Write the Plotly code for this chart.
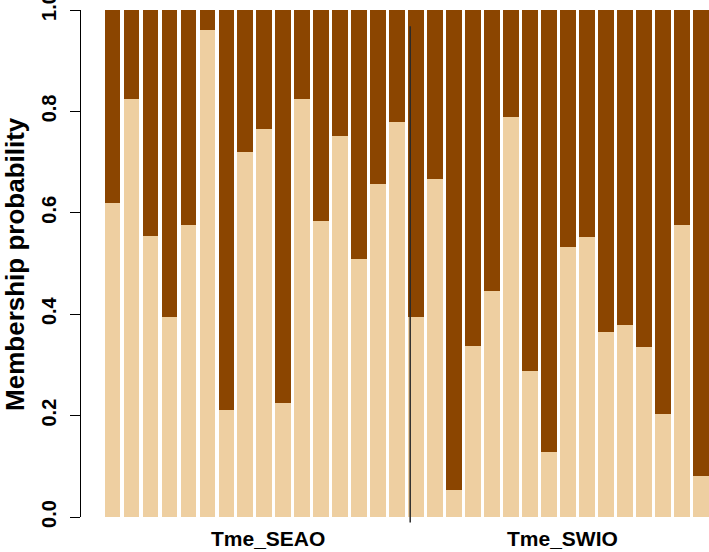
import plotly.graph_objects as go

# Data
groups = ["Tme_SEAO", "Tme_SWIO"]
group_sizes = [16, 16]
cluster1 = [0.619, 0.825, 0.555, 0.394, 0.576, 0.961, 0.212, 0.720, 0.765, 0.224,
            0.825, 0.583, 0.752, 0.508, 0.657, 0.779,
            0.394, 0.666, 0.054, 0.337, 0.446, 0.788, 0.287, 0.128, 0.532, 0.553,
            0.364, 0.379, 0.335, 0.203, 0.576, 0.080]
cluster2 = [round(1 - v, 3) for v in cluster1]
ytick_vals = [0.0, 0.2, 0.4, 0.6, 0.8, 1.0]
ytick_text = ["0.0", "0.2", "0.4", "0.6", "0.8", "1.0"]

light = "#EECFA1"
dark = "#8B4500"
font_family = "Liberation Sans, Arial, sans-serif"

idx = list(range(len(cluster1)))

fig = go.Figure()
fig.add_trace(go.Bar(x=idx, y=cluster1, marker=dict(color=light, line=dict(width=0)),
                     showlegend=False))
fig.add_trace(go.Bar(x=idx, y=cluster2, marker=dict(color=dark, line=dict(width=0)),
                     showlegend=False))

xmin, xmax = -1.658, len(cluster1) - 1 + 0.4167
divider = group_sizes[0] - 0.32
fig.add_shape(type="line", xref="paper", yref="paper",
              x0=(divider - xmin) / (xmax - xmin), x1=(divider - xmin) / (xmax - xmin),
              y0=-0.011, y1=0.968, line=dict(color="#2a2a2a", width=1.5))

centers = [8.2, 23.7]
for g, c in zip(groups, centers):
    fig.add_annotation(x=c, y=-0.043, xref="x", yref="paper", text=g, showarrow=False,
                       xanchor="center", yanchor="middle",
                       font=dict(family=font_family, size=21, color="black", weight="bold"))

fig.add_annotation(x=-0.106, y=0.5, xref="paper", yref="paper",
                   text="Membership probability", textangle=-90, showarrow=False,
                   xanchor="center", yanchor="middle",
                   font=dict(family=font_family, size=26, color="black", weight="bold"))

fig.update_layout(
    width=709, height=552,
    margin=dict(l=81, r=0, t=10, b=35, autoexpand=False),
    barmode="stack", bargap=0.167,
    plot_bgcolor="white", paper_bgcolor="white",
    font=dict(family=font_family, color="black"),
    xaxis=dict(visible=False, range=[xmin, xmax]),
    yaxis=dict(range=[0, 1], showgrid=False, zeroline=False, showline=True,
               linecolor="black", linewidth=1.3, ticks="outside", ticklen=10,
               tickwidth=1.3, tickcolor="black", tickvals=ytick_vals, ticktext=ytick_text,
               tickangle=-90, ticklabelstandoff=6, ticklabeloverflow="allow",
               automargin=False,
               tickfont=dict(family=font_family, size=20, color="black", weight="bold")),
)

fig.write_html("out.html", config={"displayModeBar": False},
               post_script="document.body.style.margin='0';")
